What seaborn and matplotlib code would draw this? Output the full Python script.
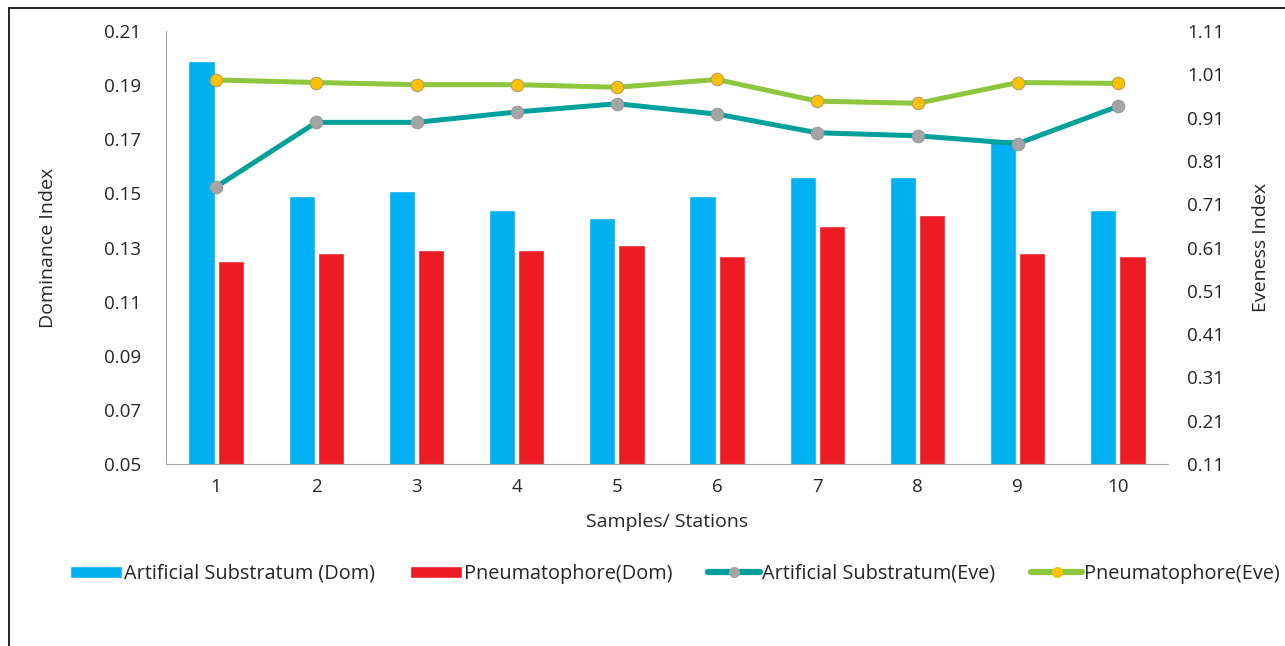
import pandas as pd
import numpy as np
import matplotlib
matplotlib.use("Agg")
import matplotlib.pyplot as plt
import seaborn as sns
from matplotlib.lines import Line2D
from matplotlib.patches import Patch

# =====================================================
# DATA
# =====================================================

stations = ["1", "2", "3", "4", "5", "6", "7", "8", "9", "10"]

artificial_dom = [0.199, 0.149, 0.151, 0.144, 0.141, 0.149, 0.156, 0.156, 0.170, 0.144]
pneumato_dom = [0.125, 0.128, 0.129, 0.129, 0.131, 0.127, 0.138, 0.142, 0.128, 0.127]

artificial_eve = [0.750, 0.899, 0.899, 0.923, 0.942, 0.918, 0.875, 0.868, 0.850, 0.936]
pneumato_eve = [0.997, 0.991, 0.986, 0.986, 0.980, 0.998, 0.948, 0.943, 0.991, 0.989]

left_ticks = [0.05, 0.07, 0.09, 0.11, 0.13, 0.15, 0.17, 0.19, 0.21]
right_ticks = [0.11, 0.21, 0.31, 0.41, 0.51, 0.61, 0.71, 0.81, 0.91, 1.01, 1.11]

blue = "#00B0F0"
red = "#ED1C24"
teal = "#00A19A"
green = "#8DC63F"
grey_mk = "#A5A5A5"
yellow_mk = "#FFC000"

# =====================================================
# PLOT
# =====================================================

sns.set_style("white")
plt.rcParams["font.family"] = ["Open Sans", "DejaVu Sans"]
plt.rcParams["text.color"] = "#262626"

dom = pd.DataFrame({
    "Station": stations * 2,
    "Value": artificial_dom + pneumato_dom,
    "Series": ["Artificial Substratum (Dom)"] * 10 + ["Pneumatophore(Dom)"] * 10,
})

fig = plt.figure(figsize=(12.85, 6.46), dpi=100)
ax = fig.add_axes([166 / 1285, 182 / 646, 1002 / 1285, 433 / 646])

sns.barplot(
    data=dom, x="Station", y="Value", hue="Series",
    palette=[blue, red], width=0.58, gap=0.1,
    saturation=1, legend=False, ax=ax
)

ax.set_ylim(0.05, 0.21)
ax.set_yticks(left_ticks)
ax.set_yticklabels([f"{t:.2f}" for t in left_ticks])
ax.set_xlim(-0.5, 9.5)
ax.set_xlabel("Samples/ Stations", fontsize=14, labelpad=12)
ax.set_ylabel("Dominance Index", fontsize=14, labelpad=34)

ax2 = ax.twinx()
xs = np.arange(len(stations))
sns.lineplot(x=xs, y=artificial_eve, color=teal, linewidth=3.6, marker="o",
             markersize=9, markerfacecolor=grey_mk, markeredgecolor="#999999",
             markeredgewidth=0.8, ax=ax2)
sns.lineplot(x=xs, y=pneumato_eve, color=green, linewidth=3.6, marker="o",
             markersize=9, markerfacecolor=yellow_mk, markeredgecolor="#B0A070",
             markeredgewidth=0.8, ax=ax2)
ax2.set_ylim(0.11, 1.11)
ax2.set_yticks(right_ticks)
ax2.set_yticklabels([f"{t:.2f}" for t in right_ticks])
ax2.set_ylabel("Eveness Index", fontsize=14, labelpad=20)
ax.set_xlim(-0.5, 9.5)

# spines & ticks
for a in (ax, ax2):
    for s in a.spines.values():
        s.set_visible(False)
ax.spines["left"].set_visible(True)
ax.spines["bottom"].set_visible(True)
ax.spines["left"].set_color("#A6A6A6")
ax.spines["bottom"].set_color("#A6A6A6")

ax.tick_params(axis="y", length=0, pad=18, labelsize=13.5)
ax2.tick_params(axis="y", length=0, pad=14, labelsize=13.5)
ax.tick_params(axis="x", which="major", length=0, pad=10, labelsize=13.5)
ax.set_xticks(np.arange(0.5, 9.0, 1.0), minor=True)
ax.tick_params(axis="x", which="minor", length=5, color="#A6A6A6", width=1)

# legend
handles = [
    Patch(facecolor=blue, label="Artificial Substratum (Dom)"),
    Patch(facecolor=red, label="Pneumatophore(Dom)"),
    Line2D([], [], color=teal, linewidth=4.5, marker="o", markersize=7,
           markerfacecolor=grey_mk, markeredgecolor=grey_mk,
           label="Artificial Substratum(Eve)"),
    Line2D([], [], color=green, linewidth=4.5, marker="o", markersize=7,
           markerfacecolor=yellow_mk, markeredgecolor=yellow_mk,
           label="Pneumatophore(Eve)"),
]
fig.legend(handles=handles, loc="center", bbox_to_anchor=(675 / 1285, 72 / 646),
           ncol=4, frameon=False, fontsize=14.3, handlelength=2.6,
           handleheight=0.6, handletextpad=0.1, columnspacing=1.8)

# chart frame
fig.add_artist(Line2D([9 / 1285, 9 / 1285], [0, 1 - 8 / 646], color="black",
                      linewidth=1.2, transform=fig.transFigure))
fig.add_artist(Line2D([9 / 1285, 1], [1 - 8 / 646, 1 - 8 / 646], color="black",
                      linewidth=1.2, transform=fig.transFigure))

fig.savefig("out.png", dpi=100)
